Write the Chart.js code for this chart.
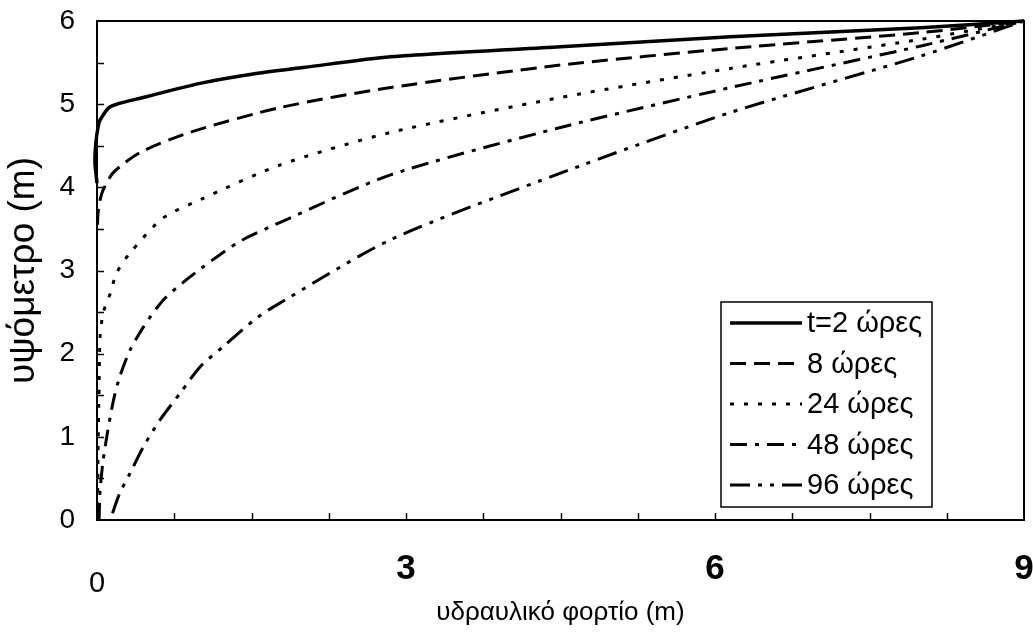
<!DOCTYPE html>
<html>
<head>
<meta charset="utf-8">
<script src="https://cdn.jsdelivr.net/npm/chart.js@4"></script>
<style>
  html,body{margin:0;padding:0;background:#fff;}
  #wrap{width:1033px;height:633px;}
</style>
</head>
<body>
<div id="wrap"><canvas id="c"></canvas></div>
<script>
// series labels
const seriesLabels=['t=2 ώρες','8 ώρες','24 ώρες','48 ώρες','96 ώρες'];

// hydraulic head (x) / elevation (y)
const t2X=[0,-0.02,-0.01,0.01,0.03,0.13,0.45,1.0,1.5,2,2.85,4.5,6.15,8,9];
const t2Y=[4.05,4.3,4.55,4.72,4.81,4.97,5.08,5.25,5.36,5.44,5.57,5.69,5.81,5.92,6];

const t8X=[0.005,0.01,0.03,0.06,0.16,0.42,0.9,1.78,2.85,4.5,6.15,8,9];
const t8Y=[3.55,3.69,3.85,3.97,4.18,4.42,4.66,4.96,5.2,5.47,5.67,5.86,6];

const t24X=[0.005,0.01,0.02,0.03,0.06,0.13,0.19,0.32,0.64,1.0,1.78,2.85,4.5,6.15,8,9];
const t24Y=[0,0.8,1.6,2.2,2.49,2.73,2.97,3.21,3.63,3.85,4.27,4.66,5.08,5.43,5.78,6];

const t48X=[0.02,0.03,0.06,0.1,0.16,0.22,0.32,0.45,0.64,0.9,1.36,1.78,2.85,4.5,6.15,8,9];
const t48Y=[0,0.36,0.72,1.04,1.44,1.72,2.04,2.32,2.64,2.92,3.33,3.58,4.15,4.72,5.2,5.7,6];

const t96X=[0.15,0.22,0.32,0.45,0.61,0.81,1.0,1.22,1.52,1.71,2.85,4.5,6.15,8,9];
const t96Y=[0.08,0.32,0.56,0.88,1.2,1.53,1.84,2.08,2.4,2.56,3.37,4.17,4.9,5.58,6];

// axis ticks
const xMin=0, xMax=9, xStep=0.75, xLabelEvery=3;
const yMin=0, yMax=6, yStep=0.5;

const FONT="'Liberation Sans', Arial, sans-serif";

const pts=(xs,ys)=>xs.map((x,i)=>({x,y:ys[i]}));
const dashes=[[],[16,8],[4,10],[17,8,4,8],[20,8,4,8,4,8]];
const widths=[3.5,3,3,3,3];
const allX=[t2X,t8X,t24X,t48X,t96X], allY=[t2Y,t8Y,t24Y,t48Y,t96Y];

const datasets=seriesLabels.map((label,i)=>({
  label,
  data:pts(allX[i],allY[i]),
  borderColor:'#000',
  borderWidth:widths[i],
  borderDash:dashes[i],
  pointRadius:0,
  tension:0.25,
  fill:false,
  clip:6
}));

// frame + inward tick marks
const framePlugin={
  id:'frame',
  afterDatasetsDraw(chart){
    const {ctx,chartArea:a,scales:{x,y}}=chart;
    ctx.save();
    ctx.strokeStyle='#000'; ctx.lineWidth=2; ctx.setLineDash([]);
    ctx.strokeRect(a.left,a.top,a.right-a.left,a.bottom-a.top);
    ctx.lineWidth=1.5;
    ctx.beginPath();
    x.ticks.forEach(t=>{
      const px=Math.round(x.getPixelForValue(t.value))+0.5;
      if(t.value<=xMin||t.value>=xMax) return;
      ctx.moveTo(px,a.bottom); ctx.lineTo(px,a.bottom-7);
    });
    y.ticks.forEach(t=>{
      const py=Math.round(y.getPixelForValue(t.value))+0.5;
      if(t.value<=yMin||t.value>=yMax) return;
      ctx.moveTo(a.left,py); ctx.lineTo(a.left+7,py);
    });
    ctx.stroke();
    ctx.restore();
  }
};

// legend box inside the plot
const boxLegend={
  id:'boxLegend',
  afterDraw(chart,args,o){
    const {ctx}=chart;
    ctx.save();
    ctx.fillStyle='#fff'; ctx.fillRect(o.left,o.top,o.width,o.height);
    ctx.strokeStyle='#000'; ctx.lineWidth=1.5; ctx.setLineDash([]);
    ctx.strokeRect(o.left,o.top,o.width,o.height);
    ctx.font=`${o.fontSize}px ${FONT}`; ctx.textBaseline='middle'; ctx.fillStyle='#000';
    chart.data.datasets.forEach((ds,i)=>{
      const cy=o.top+o.firstRow+i*o.rowGap;
      ctx.setLineDash(ds.borderDash); ctx.lineWidth=ds.borderWidth;
      ctx.beginPath(); ctx.moveTo(o.left+9,cy); ctx.lineTo(o.left+9+o.sample,cy); ctx.stroke();
      ctx.setLineDash([]);
      ctx.fillText(ds.label,o.left+o.textX,cy+1);
    });
    ctx.restore();
  }
};

new Chart(document.getElementById('c'),{
  type:'line',
  data:{datasets},
  plugins:[framePlugin,boxLegend],
  options:{
    responsive:true,maintainAspectRatio:false,animation:false,
    layout:{padding:{top:21,right:9,left:0,bottom:0}},
    plugins:{
      legend:{display:false},tooltip:{enabled:false},
      boxLegend:{left:721,top:302,width:211,height:205,firstRow:21,rowGap:40.5,sample:72,textX:86,fontSize:29}
    },
    scales:{
      x:{
        type:'linear',min:xMin,max:xMax,
        afterFit:s=>{s.height=113; s.paddingLeft=0; s.paddingRight=0;},
        grid:{display:true,drawOnChartArea:false,drawTicks:false},
        border:{display:false},
        ticks:{
          stepSize:xStep,autoSkip:false,maxRotation:0,padding:28,color:'#000',
          callback:v=>(Math.abs(v%xLabelEvery)<1e-9?String(v):''),
          font:c=>(c.tick&&c.tick.value===0)?{family:FONT,size:29,lineHeight:2.5}:{family:FONT,size:35,weight:'bold'}
        },
        title:{display:true,text:'υδραυλικό φορτίο (m)',color:'#000',font:{family:FONT,size:26},padding:{top:0,bottom:5}}
      },
      y:{
        min:yMin,max:yMax,
        afterFit:s=>{s.width=97; s.paddingTop=0; s.paddingBottom=0;},
        grid:{display:true,drawOnChartArea:false,drawTicks:false},
        border:{display:false},
        ticks:{
          stepSize:yStep,autoSkip:false,padding:22,color:'#000',
          callback:v=>(Number.isInteger(v)?String(v):''),
          font:{family:FONT,size:28}
        },
        title:{display:true,text:'υψόμετρο (m)',color:'#000',font:{family:FONT,size:37},padding:{top:2,bottom:0}}
      }
    }
  }
});
</script>
</body>
</html>
